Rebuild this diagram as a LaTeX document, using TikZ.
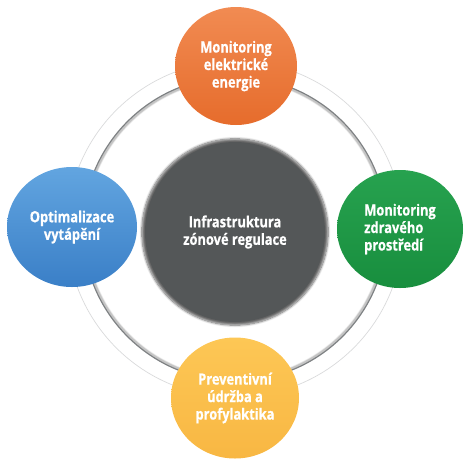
\documentclass[tikz,border=0pt]{standalone}
\usepackage{fontspec}
\setmainfont{Open Sans}[FakeStretch=0.83]
\newfontfamily\bubblefont{Open Sans Bold}[FakeStretch=0.83, FakeBold=0.6]
\usetikzlibrary{shapes.geometric,shadows.blur}
\definecolor{hubgray}{HTML}{545758}
\definecolor{orgT}{HTML}{F18B52}
\definecolor{orgB}{HTML}{E66C2C}
\definecolor{bluT}{HTML}{62A5E0}
\definecolor{bluB}{HTML}{3A7FC7}
\definecolor{grnT}{HTML}{27A24F}
\definecolor{grnB}{HTML}{188E3E}
\definecolor{ylwT}{HTML}{FDC755}
\definecolor{ylwB}{HTML}{F8B743}
\definecolor{ringdark}{HTML}{7F8284}
\definecolor{ringlight}{HTML}{D9DADB}
\tikzset{
  bubble/.style={ellipse, inner sep=0pt, text=white, align=center,
    font=\fontsize{15.5}{17.5}\bubblefont},
  hub/.style={circle, inner sep=0pt, minimum size=180pt, fill=hubgray, text=white,
    align=center, font=\fontsize{15.5}{17.5}\bubblefont,
    blur shadow={shadow xshift=0pt, shadow yshift=0pt, shadow scale=1.035, shadow blur steps=8, shadow opacity=60}}
}
\begin{document}
\begin{tikzpicture}[x=1pt,y=-1pt]
\useasboundingbox (0,0) rectangle (464,459);
% ring
\coordinate (rc) at (235,229);
\draw[ringlight, line width=0.7pt] (rc) circle[radius=168];
\foreach \w/\o in {4/0.05,3/0.08,2/0.12}{
  \draw[black, opacity=\o, line width=\w pt] (rc) circle[radius=150.5];
}
\draw[ringdark, line width=1.2pt] (rc) circle[radius=152];
% hub
\node[hub] (hub) at (235,232) {Infrastruktura\\zónové regulace};
% satellites
\node[bubble, minimum width=122pt, minimum height=118pt, top color=orgT, bottom color=orgB] (top) at (236,66) {Monitoring\\elektrické\\energie};
\node[bubble, minimum width=130pt, minimum height=120pt, top color=bluT, bottom color=bluB] (left) at (72,227) {Optimalizace\\vytápění};
\node[bubble, minimum width=126pt, minimum height=118pt, top color=grnT, bottom color=grnB, align=left] (right) at (400,229) {Monitoring\\zdravého\\prostředí};
\node[bubble, minimum width=128pt, minimum height=121pt, top color=ylwT, bottom color=ylwB] (bottom) at (235,398) {Preventivní\\údržba a\\profylaktika};
\end{tikzpicture}
\end{document}
